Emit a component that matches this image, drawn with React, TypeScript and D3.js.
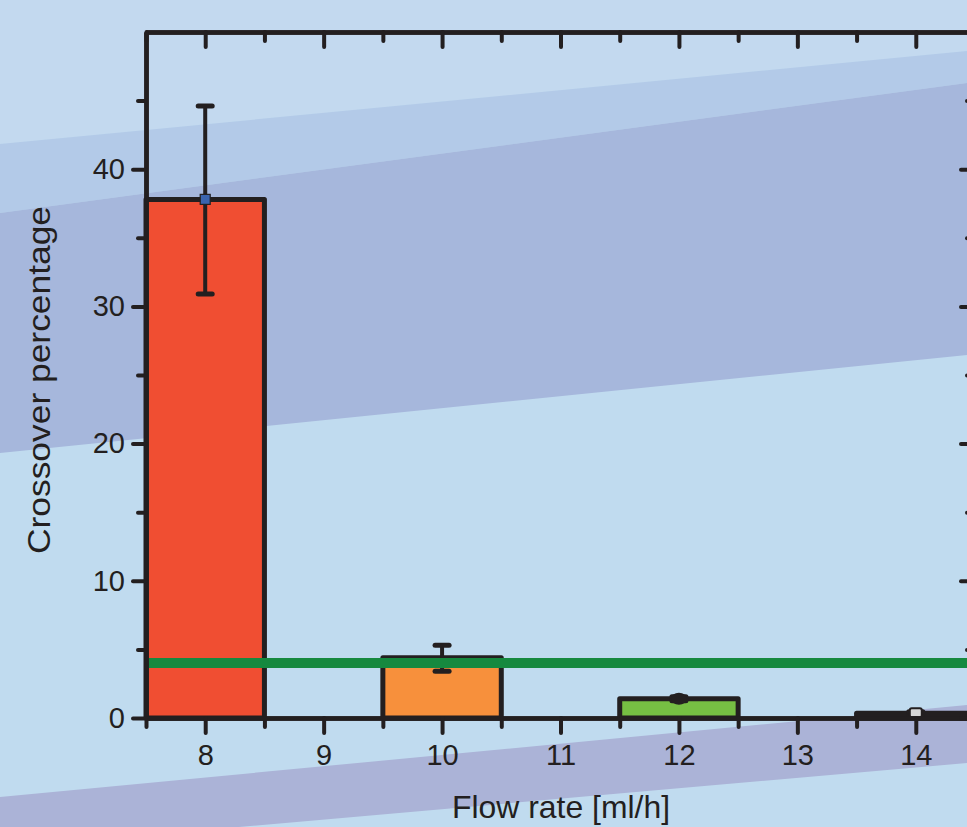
import * as d3 from "d3";
import React, { useEffect, useRef } from "react";

const W = 967;
const H = 827;

// data
const flowRates = [8, 10, 12, 14];
const crossover = [37.8, 4.4, 1.4, 0.35];
const errLow = [30.9, 3.4, 1.25, 0.25];
const errHigh = [44.6, 5.3, 1.55, 0.45];
const referenceLevel = 4;
const xMajorTicks = [8, 9, 10, 11, 12, 13, 14];
const xMinorTicks = [7.5, 8.5, 9.5, 10.5, 11.5, 12.5, 13.5];
const yMajorTicks = [0, 10, 20, 30, 40];
const yMinorTicks = [5, 15, 25, 35, 45];

const barColors = ["#f04e32", "#f7903c", "#76bf43", "#0a0a0a"];
const ink = "#231f20";
const font = "'Liberation Sans', Arial, sans-serif";

const App = () => {
  const ref = useRef(null);

  useEffect(() => {
    const svg = d3.select(ref.current);
    svg.selectAll("*").remove();

    // diagonal background bands
    const bands = [
      { pts: [[0, 0], [W, 0], [W, H], [0, H]], fill: "#c0dbef" },
      { pts: [[0, 0], [W, 0], [W, 51], [0, 144]], fill: "#c3d9ef" },
      { pts: [[0, 144], [W, 51], [W, 83], [0, 213]], fill: "#b3cae8" },
      { pts: [[0, 213], [W, 83], [W, 355], [0, 453]], fill: "#a6b7dc" },
      { pts: [[0, 797], [W, 705], [W, 763], [0, 848]], fill: "#abb3d7" },
    ];
    svg
      .selectAll("polygon.band")
      .data(bands)
      .enter()
      .append("polygon")
      .attr("class", "band")
      .attr("points", (d) => d.pts.map((p) => p.join(",")).join(" "))
      .attr("fill", (d) => d.fill);

    const x = d3.scaleLinear().domain([7.5, 14.5]).range([146, 975]);
    const y = d3.scaleLinear().domain([0, 50]).range([718, 32]);

    const data = flowRates.map((f, i) => ({
      f,
      v: crossover[i],
      lo: errLow[i],
      hi: errHigh[i],
      c: barColors[i],
    }));

    // bars
    svg
      .selectAll("rect.bar")
      .data(data)
      .enter()
      .append("rect")
      .attr("class", "bar")
      .attr("x", (d) => x(d.f - 0.5))
      .attr("width", (d) => x(d.f + 0.5) - x(d.f - 0.5))
      .attr("y", (d) => y(d.v))
      .attr("height", (d) => y(0) - y(d.v))
      .attr("fill", (d) => d.c)
      .attr("stroke", ink)
      .attr("stroke-width", 5)
      .attr("stroke-linejoin", "round");

    // error bars
    const eb = svg.selectAll("g.err").data(data).enter().append("g");
    eb.append("line")
      .attr("x1", (d) => x(d.f))
      .attr("x2", (d) => x(d.f))
      .attr("y1", (d) => y(d.lo))
      .attr("y2", (d) => y(d.hi))
      .attr("stroke", ink)
      .attr("stroke-width", 4);
    [(d) => d.lo, (d) => d.hi].forEach((acc) => {
      eb.append("line")
        .attr("x1", (d) => x(d.f) - 7)
        .attr("x2", (d) => x(d.f) + 7)
        .attr("y1", (d) => y(acc(d)))
        .attr("y2", (d) => y(acc(d)))
        .attr("stroke", ink)
        .attr("stroke-width", 5)
        .attr("stroke-linecap", "round");
    });

    // mean markers
    svg.append("rect")
      .attr("x", x(flowRates[0]) - 5)
      .attr("y", y(crossover[0]) - 5)
      .attr("width", 10)
      .attr("height", 10)
      .attr("fill", "#3b64ae")
      .attr("stroke", ink)
      .attr("stroke-width", 1.2);
    svg.append("ellipse")
      .attr("cx", x(flowRates[2]))
      .attr("cy", y(crossover[2]))
      .attr("rx", 8)
      .attr("ry", 6)
      .attr("fill", ink);
    svg.append("rect")
      .attr("x", x(flowRates[3]) - 6)
      .attr("y", y(crossover[3]) - 5)
      .attr("width", 12)
      .attr("height", 9)
      .attr("rx", 2)
      .attr("fill", "#d8d8d8")
      .attr("stroke", ink)
      .attr("stroke-width", 2);

    // reference line
    svg.append("line")
      .attr("x1", x(7.5))
      .attr("x2", x(14.5))
      .attr("y1", y(referenceLevel))
      .attr("y2", y(referenceLevel))
      .attr("stroke", "#16893f")
      .attr("stroke-width", 10);

    const styleAxis = (g) => {
      g.select(".domain").attr("stroke", ink).attr("stroke-width", 4.5);
      g.selectAll(".tick line")
        .attr("stroke", ink)
        .attr("stroke-width", 4)
        .attr("stroke-linecap", "round");
      g.selectAll(".tick text")
        .attr("fill", ink)
        .attr("font-size", 29)
        .attr("font-family", font);
    };

    // minor ticks
    svg.append("g")
      .attr("transform", `translate(0,${y(0)})`)
      .call(d3.axisBottom(x).tickValues(xMinorTicks).tickSize(9).tickSizeOuter(0).tickFormat(() => ""))
      .call(styleAxis);
    svg.append("g")
      .attr("transform", `translate(0,${y(50)})`)
      .call(d3.axisTop(x).tickValues(xMinorTicks).tickSize(-9).tickSizeOuter(0).tickFormat(() => ""))
      .call(styleAxis);
    svg.append("g")
      .attr("transform", `translate(${x(7.5)},0)`)
      .call(d3.axisLeft(y).tickValues(yMinorTicks).tickSize(8).tickSizeOuter(0).tickFormat(() => ""))
      .call(styleAxis);
    svg.append("g")
      .attr("transform", `translate(${x(14.5)},0)`)
      .call(d3.axisRight(y).tickValues(yMinorTicks).tickSize(-8).tickSizeOuter(0).tickFormat(() => ""))
      .call(styleAxis);

    // major ticks
    svg.append("g")
      .attr("transform", `translate(0,${y(0)})`)
      .call(d3.axisBottom(x).tickValues(xMajorTicks).tickSize(15).tickPadding(11).tickSizeOuter(0).tickFormat(d3.format("d")))
      .call(styleAxis);
    svg.append("g")
      .attr("transform", `translate(0,${y(50)})`)
      .call(d3.axisTop(x).tickValues(xMajorTicks).tickSize(-15).tickSizeOuter(0).tickFormat(() => ""))
      .call(styleAxis);
    svg.append("g")
      .attr("transform", `translate(${x(7.5)},0)`)
      .call(d3.axisLeft(y).tickValues(yMajorTicks).tickSize(13).tickPadding(8).tickSizeOuter(0).tickFormat(d3.format("d")))
      .call(styleAxis);
    svg.append("g")
      .attr("transform", `translate(${x(14.5)},0)`)
      .call(d3.axisRight(y).tickValues(yMajorTicks).tickSize(-14).tickSizeOuter(0).tickFormat(() => ""))
      .call(styleAxis);

    // axis titles
    svg.append("text")
      .attr("x", 561)
      .attr("y", 818)
      .attr("text-anchor", "middle")
      .attr("font-size", 32)
      .attr("font-family", font)
      .attr("fill", ink)
      .attr("textLength", 218)
      .attr("lengthAdjust", "spacingAndGlyphs")
      .text("Flow rate [ml/h]");
    svg.append("text")
      .attr("transform", "translate(50,380) rotate(-90)")
      .attr("text-anchor", "middle")
      .attr("font-size", 32)
      .attr("font-family", font)
      .attr("fill", ink)
      .attr("textLength", 348)
      .attr("lengthAdjust", "spacingAndGlyphs")
      .text("Crossover percentage");
  }, []);

  return (
    <svg
      ref={ref}
      width={W}
      height={H}
      style={{ position: "absolute", left: 0, top: 0, display: "block" }}
    />
  );
};

export default App;
